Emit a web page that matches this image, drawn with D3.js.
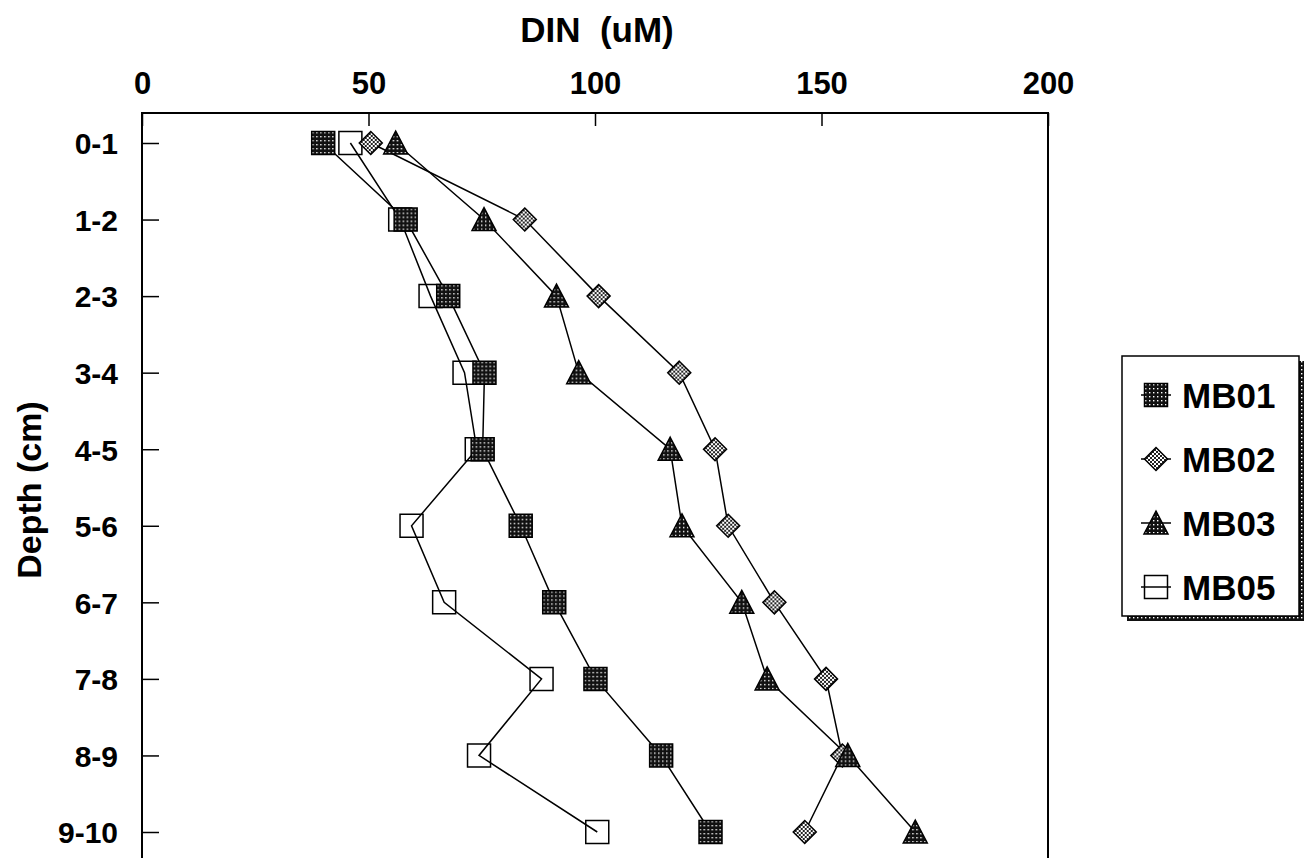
<!DOCTYPE html>
<html>
<head>
<meta charset="utf-8">
<script src="https://cdn.jsdelivr.net/npm/d3@7"></script>
<style>
  body { margin: 0; background: #fff; }
  svg text { font-family: "Liberation Sans", Arial, sans-serif; font-weight: bold; fill: #000; }
</style>
</head>
<body>
<script>
(function(){

    /////////// DATA //////////
    const depths = ["0-1","1-2","2-3","3-4","4-5","5-6","6-7","7-8","8-9","9-10"]; // Depth intervals (cm)
    const mb01 = [40, 58.2, 67.6, 75.6, 75.2, 83.6, 91, 100.1, 114.6, 125.5];
    const mb02 = [50.5, 84.5, 100.8, 118.6, 126.5, 129.4, 139.6, 151, 154.6, 146.3];
    const mb03 = [56, 75.5, 91.5, 96.4, 116.6, 119.2, 132.4, 138, 155.8, 170.7];
    const mb05 = [46, 57, 63.7, 71.2, 73.9, 59.5, 66.7, 88.2, 74.4, 100.5];
    const xTicks = [0, 50, 100, 150, 200];

    /////////// CONFIGURATION //////////
    const width = 1311;
    const height = 858;
    const frame = {left: 142, top: 113, right: 1048, bottom: 872}; // plot box (bottom runs off the page)

    // series in draw order (MB01 ends up on top)
    const series = [
        {name: "MB05", values: mb05, shape: "square",   fill: "none"},
        {name: "MB02", values: mb02, shape: "diamond",  fill: "url(#check)"},
        {name: "MB03", values: mb03, shape: "triangle", fill: "url(#stipple)"},
        {name: "MB01", values: mb01, shape: "square",   fill: "url(#stipple)"}
    ];
    const legendOrder = ["MB01", "MB02", "MB03", "MB05"];

    function setChart() {
        const svg = d3.select("body").append("svg")
            .attr("width", width)
            .attr("height", height);

        makePatterns(svg);

        const x = d3.scaleLinear().domain([0, 200]).range([frame.left, frame.right]);
        const y = d3.scalePoint().domain(depths).range([143, 832]);

        drawAxes(svg, x, y);
        drawSeries(svg, x, y);
        drawLegend(svg);
    }

    function makePatterns(svg) {
        const defs = svg.append("defs");

        // dark stipple: black with small white dots
        const st = defs.append("pattern")
            .attr("id", "stipple")
            .attr("patternUnits", "userSpaceOnUse")
            .attr("width", 4).attr("height", 4);
        st.append("rect").attr("width", 4).attr("height", 4).attr("fill", "#111");
        st.append("rect").attr("x", 1).attr("y", 1).attr("width", 1.4).attr("height", 1.4).attr("fill", "#fff");

        // checker: fine black/white grid (mid grey)
        const ck = defs.append("pattern")
            .attr("id", "check")
            .attr("patternUnits", "userSpaceOnUse")
            .attr("width", 4).attr("height", 4);
        ck.append("rect").attr("width", 4).attr("height", 4).attr("fill", "#fff");
        ck.append("rect").attr("width", 2).attr("height", 2).attr("fill", "#222");
        ck.append("rect").attr("x", 2).attr("y", 2).attr("width", 2).attr("height", 2).attr("fill", "#222");
    }

    function drawAxes(svg, x, y) {
        // frame
        svg.append("rect")
            .attr("x", frame.left).attr("y", frame.top)
            .attr("width", frame.right - frame.left)
            .attr("height", frame.bottom - frame.top)
            .attr("fill", "none")
            .attr("stroke", "#000")
            .attr("stroke-width", 2);

        // top axis, ticks pointing inward
        const top = svg.append("g")
            .attr("transform", `translate(0,${frame.top})`)
            .call(d3.axisTop(x).tickValues(xTicks).tickSizeInner(-13).tickSizeOuter(0).tickPadding(19));
        top.select(".domain").remove();
        top.selectAll("line").attr("stroke", "#000").attr("stroke-width", 1.5);
        top.selectAll("text").style("font-size", "31px");

        // left axis, ticks pointing inward
        const left = svg.append("g")
            .attr("transform", `translate(${frame.left},0)`)
            .call(d3.axisLeft(y).tickSizeInner(-17).tickSizeOuter(0).tickPadding(24));
        left.select(".domain").remove();
        left.selectAll("line").attr("stroke", "#000").attr("stroke-width", 1.5);
        left.selectAll("text").style("font-size", "30px").attr("dy", "0.36em");

        // axis titles
        svg.append("text")
            .attr("x", 597).attr("y", 42)
            .attr("text-anchor", "middle")
            .style("font-size", "35px")
            .attr("xml:space", "preserve")
            .text("DIN  (uM)");

        svg.append("text")
            .attr("transform", "translate(41,490) rotate(-90)")
            .attr("text-anchor", "middle")
            .style("font-size", "34px")
            .text("Depth (cm)");
    }

    function symbolPath(shape) {
        if (shape === "square") return "M-11.5,-11.5H11.5V11.5H-11.5Z";
        if (shape === "diamond") return "M0,-11.5L11.5,0L0,11.5L-11.5,0Z";
        return "M0,-12L12,11L-12,11Z"; // triangle
    }

    function drawSeries(svg, x, y) {
        const line = d3.line()
            .x(d => x(d.v))
            .y(d => y(d.depth));

        const rows = series.map(s => ({
            name: s.name, shape: s.shape, fill: s.fill,
            points: s.values.map((v, i) => ({v: v, depth: depths[i]}))
        }));

        // connecting lines first
        svg.append("g").selectAll("path")
            .data(rows)
            .enter().append("path")
            .attr("d", d => line(d.points))
            .attr("fill", "none")
            .attr("stroke", "#000")
            .attr("stroke-width", 1.5);

        // markers
        rows.forEach(r => {
            svg.append("g").attr("class", r.name).selectAll("path")
                .data(r.points)
                .enter().append("path")
                .attr("transform", d => `translate(${x(d.v)},${y(d.depth)})`)
                .attr("d", symbolPath(r.shape))
                .attr("fill", r.fill)
                .attr("stroke", "#000")
                .attr("stroke-width", 1.5);
        });
    }

    function drawLegend(svg) {
        const box = {x: 1122, y: 356, w: 177, h: 260};
        const g = svg.append("g");

        // stippled drop shadow
        g.append("rect")
            .attr("x", box.x + 5).attr("y", box.y + 5)
            .attr("width", box.w).attr("height", box.h)
            .attr("fill", "url(#stipple)");
        g.append("rect")
            .attr("x", box.x).attr("y", box.y)
            .attr("width", box.w).attr("height", box.h)
            .attr("fill", "#fff")
            .attr("stroke", "#000")
            .attr("stroke-width", 1.5);

        const ly = d3.scalePoint().domain(legendOrder).range([395, 587]);
        const items = g.selectAll(".item")
            .data(legendOrder.map(n => series.find(s => s.name === n)))
            .enter().append("g")
            .attr("transform", d => `translate(0,${ly(d.name)})`);

        items.append("line")
            .attr("x1", 1141).attr("x2", 1171)
            .attr("stroke", "#000").attr("stroke-width", 1.5);
        items.append("path")
            .attr("transform", "translate(1156,0)")
            .attr("d", d => symbolPath(d.shape))
            .attr("fill", d => d.fill)
            .attr("stroke", "#000")
            .attr("stroke-width", 1.5);
        items.append("text")
            .attr("x", 1182).attr("dy", "0.36em")
            .style("font-size", "35px")
            .text(d => d.name);
    }

    window.onload = setChart;
})();
</script>
</body>
</html>
